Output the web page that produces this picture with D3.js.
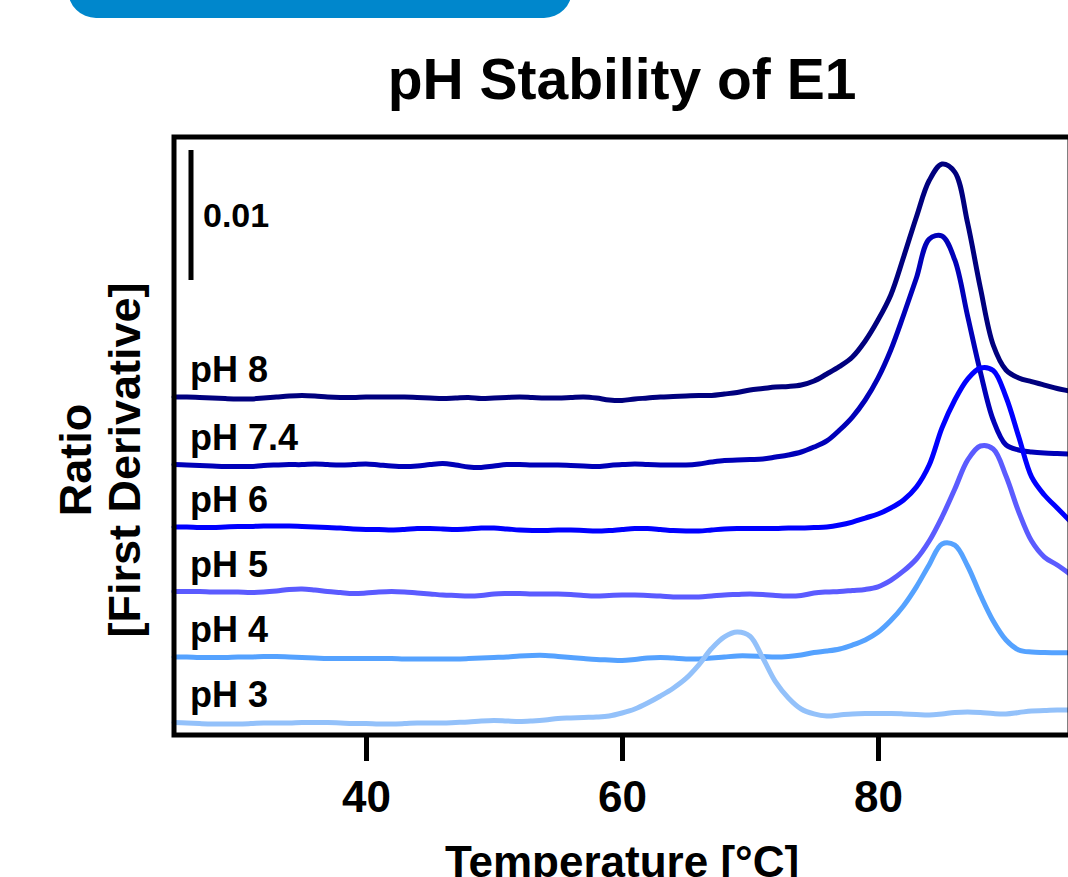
<!DOCTYPE html>
<html>
<head>
<meta charset="utf-8">
<script src="https://cdn.jsdelivr.net/npm/d3@7"></script>
<style>
  body { margin: 0; background: #fff; }
  svg { display: block; font-family: Arial, "Liberation Sans", Helvetica, sans-serif; font-weight: bold; }
</style>
</head>
<body>
<svg id="chart" width="1068" height="877"></svg>
<script>
// temperatures (°C), shared by every trace
const temps = [25, 26, 27, 28, 29, 30, 31, 32, 33, 34,
  35, 36, 37, 38, 39, 40, 41, 42, 43, 44,
  45, 46, 47, 48, 49, 50, 51, 52, 53, 54,
  55, 56, 57, 58, 59, 60, 61, 62, 63, 64,
  65, 66, 67, 68, 69, 70, 71, 72, 73, 74,
  75, 76, 77, 78, 79, 80, 81, 82, 83, 84,
  85, 86, 87, 88, 89, 90, 91, 92, 93, 94, 95];

// first derivative of the ratio, in units of 0.001
const ph8 = [0, 0, -0.04, -0.08, -0.12, -0.15, -0.15, -0.08, 0, 0.08,
  0.12, 0.08, 0, -0.04, -0.04, 0, 0, 0, 0, -0.04,
  -0.08, -0.12, -0.08, -0.04, -0.12, -0.08, -0.04, 0, -0.04, -0.08,
  -0.08, -0.04, 0, -0.08, -0.23, -0.27, -0.15, -0.08, 0, 0.04,
  0.08, 0.12, 0.12, 0.23, 0.35, 0.54, 0.65, 0.77, 0.81, 0.92,
  1.23, 1.77, 2.35, 3.08, 4.31, 5.92, 7.85, 10.77, 13.85, 16.65,
  17.92, 17.3, 13.38, 8.38, 4.0, 2.08, 1.46, 1.18, 0.92, 0.65, 0.46];

const ph74 = [0, -0.03, -0.07, -0.11, -0.15, -0.15, -0.15, -0.07, -0.03, 0,
  0, 0.05, 0, -0.03, 0, 0.05, -0.03, -0.11, -0.15, -0.11,
  0, 0.08, -0.03, -0.18, -0.22, -0.11, 0, 0, -0.03, -0.03,
  -0.03, -0.07, -0.11, -0.15, -0.07, 0, 0.05, 0, -0.03, -0.03,
  -0.03, 0.05, 0.2, 0.32, 0.35, 0.39, 0.43, 0.58, 0.74, 0.97,
  1.35, 1.82, 2.66, 3.66, 4.97, 6.65, 8.82, 11.51, 14.35, 17.35,
  17.58, 15.74, 11.43, 7.12, 3.43, 1.51, 1.12, 0.97, 0.89, 0.85, 0.82];

const ph6 = [0, 0, -0.04, -0.04, 0, 0.04, 0.04, 0.08, 0.08, 0.08,
  0.04, 0, -0.04, -0.08, -0.15, -0.19, -0.19, -0.23, -0.19, -0.12,
  -0.12, -0.15, -0.19, -0.15, -0.08, -0.08, -0.15, -0.23, -0.27, -0.27,
  -0.23, -0.23, -0.27, -0.31, -0.27, -0.19, -0.12, -0.12, -0.19, -0.27,
  -0.31, -0.31, -0.23, -0.15, -0.12, -0.12, -0.12, -0.12, -0.08, -0.08,
  -0.04, 0, 0.15, 0.38, 0.69, 1.0, 1.46, 2.08, 3.08, 4.77,
  7.62, 9.77, 11.38, 12.23, 12.04, 10.0, 6.92, 3.85, 2.46, 1.46, 0.46];

const ph5 = [0.04, 0.04, 0.04, 0, 0, 0, -0.04, 0, 0.08, 0.19,
  0.23, 0.15, 0.04, -0.04, -0.12, -0.08, 0, 0.04, 0, -0.08,
  -0.15, -0.23, -0.27, -0.31, -0.27, -0.15, -0.12, -0.12, -0.15, -0.15,
  -0.15, -0.19, -0.27, -0.31, -0.27, -0.23, -0.23, -0.27, -0.31, -0.38,
  -0.38, -0.38, -0.31, -0.23, -0.19, -0.15, -0.19, -0.27, -0.31, -0.27,
  -0.08, 0, 0.04, 0.12, 0.2, 0.4, 0.9, 1.62, 2.54, 3.92,
  5.77, 7.92, 10.15, 11.23, 11.0, 8.92, 6.15, 3.92, 2.69, 2.08, 1.38];

const ph4 = [0, 0, -0.04, -0.04, -0.04, 0, 0, 0.04, 0.04, 0,
  -0.04, -0.08, -0.12, -0.12, -0.12, -0.12, -0.12, -0.12, -0.15, -0.15,
  -0.15, -0.15, -0.15, -0.12, -0.08, -0.04, 0, 0.08, 0.12, 0.12,
  0.04, -0.04, -0.12, -0.19, -0.23, -0.27, -0.19, -0.08, -0.04, -0.08,
  -0.15, -0.15, -0.08, 0, 0.08, 0.08, 0.04, 0, 0.04, 0.15,
  0.35, 0.46, 0.62, 0.92, 1.31, 1.9, 2.8, 3.95, 5.4, 7.1,
  8.7, 8.6, 7.0, 4.77, 2.77, 1.31, 0.54, 0.38, 0.35, 0.33, 0.33];

const ph3 = [-0.04, -0.08, -0.12, -0.15, -0.15, -0.15, -0.12, -0.08, -0.08, -0.08,
  -0.04, -0.04, -0.04, -0.08, -0.12, -0.12, -0.15, -0.15, -0.12, -0.08,
  -0.08, -0.08, -0.04, 0, 0.08, 0.12, 0.08, 0.04, 0.08, 0.15,
  0.27, 0.31, 0.35, 0.38, 0.46, 0.69, 1.0, 1.46, 2.0, 2.6,
  3.35, 4.4, 5.65, 6.55, 6.92, 6.6, 4.92, 3.08, 1.85, 1.0,
  0.62, 0.46, 0.54, 0.62, 0.65, 0.65, 0.65, 0.62, 0.58, 0.54,
  0.62, 0.73, 0.77, 0.73, 0.65, 0.62, 0.73, 0.85, 0.88, 0.92, 0.92];

const labels = ["pH 8", "pH 7.4", "pH 6", "pH 5", "pH 4", "pH 3"];
const seriesValues = [ph8, ph74, ph6, ph5, ph4, ph3];
// vertical stacking of the traces (same units)
const offsets = [26, 20.8, 16, 11, 6, 1];
const colors = ["#00007e", "#0000b8", "#0000ff", "#5b5bff", "#55a2ff", "#93c1fa"];
const xTicks = [40, 60, 80];

const svg = d3.select("#chart");
const plotLeft = 174, plotRight = 1070, plotTop = 137, plotBottom = 735;

const x = d3.scaleLinear().domain([25, 95]).range([plotLeft, plotRight]);
const y = d3.scaleLinear().domain([0, 46]).range([plotBottom, plotTop]);

// header bar (cut off at the top edge)
svg.append("rect")
  .attr("x", 68).attr("y", -40)
  .attr("width", 504).attr("height", 58)
  .attr("rx", 28)
  .attr("fill", "#0087cc");

svg.append("text")
  .attr("x", (plotLeft + plotRight) / 2)
  .attr("y", 99)
  .attr("text-anchor", "middle")
  .attr("font-size", 57)
  .text("pH Stability of E1");

const line = d3.line()
  .x(d => x(d.t))
  .y(d => y(d.v))
  .curve(d3.curveCatmullRom.alpha(0.5));

const series = seriesValues.map((vals, i) => ({
  label: labels[i],
  color: colors[i],
  offset: offsets[i],
  points: temps.map((t, j) => ({ t, v: offsets[i] + vals[j] }))
}));

svg.append("g")
  .selectAll("path")
  .data(series)
  .enter().append("path")
  .attr("d", d => line(d.points))
  .attr("fill", "none")
  .attr("stroke", d => d.color)
  .attr("stroke-width", 5)
  .attr("stroke-linejoin", "round")
  .attr("stroke-linecap", "round");

svg.append("g")
  .selectAll("text")
  .data(series)
  .enter().append("text")
  .attr("x", plotLeft + 16)
  .attr("y", d => y(d.offset) - 15)
  .attr("font-size", 36)
  .text(d => d.label);

// scale bar: 0.01
svg.append("line")
  .attr("x1", plotLeft + 17).attr("x2", plotLeft + 17)
  .attr("y1", y(35)).attr("y2", y(45))
  .attr("stroke", "#000")
  .attr("stroke-width", 5);

svg.append("text")
  .attr("x", plotLeft + 29)
  .attr("y", y(40) + 12)
  .attr("font-size", 34)
  .text("0.01");

// frame
svg.append("rect")
  .attr("x", plotLeft).attr("y", plotTop)
  .attr("width", plotRight - plotLeft).attr("height", plotBottom - plotTop)
  .attr("fill", "none")
  .attr("stroke", "#000")
  .attr("stroke-width", 5);

const xAxis = svg.append("g")
  .attr("transform", `translate(0,${plotBottom})`)
  .call(d3.axisBottom(x).tickValues(xTicks).tickSize(26).tickPadding(20));

xAxis.select(".domain").remove();
xAxis.selectAll(".tick line").attr("stroke", "#000").attr("stroke-width", 5);
xAxis.selectAll(".tick text")
  .attr("font-size", 44)
  .attr("font-family", "Arial, 'Liberation Sans', sans-serif")
  .attr("font-weight", "bold")
  .attr("fill", "#000");

// x title: cut off by the lower edge, as in the source figure
svg.append("text")
  .attr("x", (plotLeft + plotRight) / 2)
  .attr("y", 877)
  .attr("text-anchor", "middle")
  .attr("font-size", 44)
  .text("Temperature [°C]");

const yTitle = svg.append("text")
  .attr("transform", "translate(0,460) rotate(-90)")
  .attr("text-anchor", "middle")
  .attr("font-size", 45);

yTitle.append("tspan").attr("x", 0).attr("y", 91).text("Ratio");
yTitle.append("tspan").attr("x", 0).attr("y", 140).text("[First  Derivative]");
</script>
</body>
</html>
